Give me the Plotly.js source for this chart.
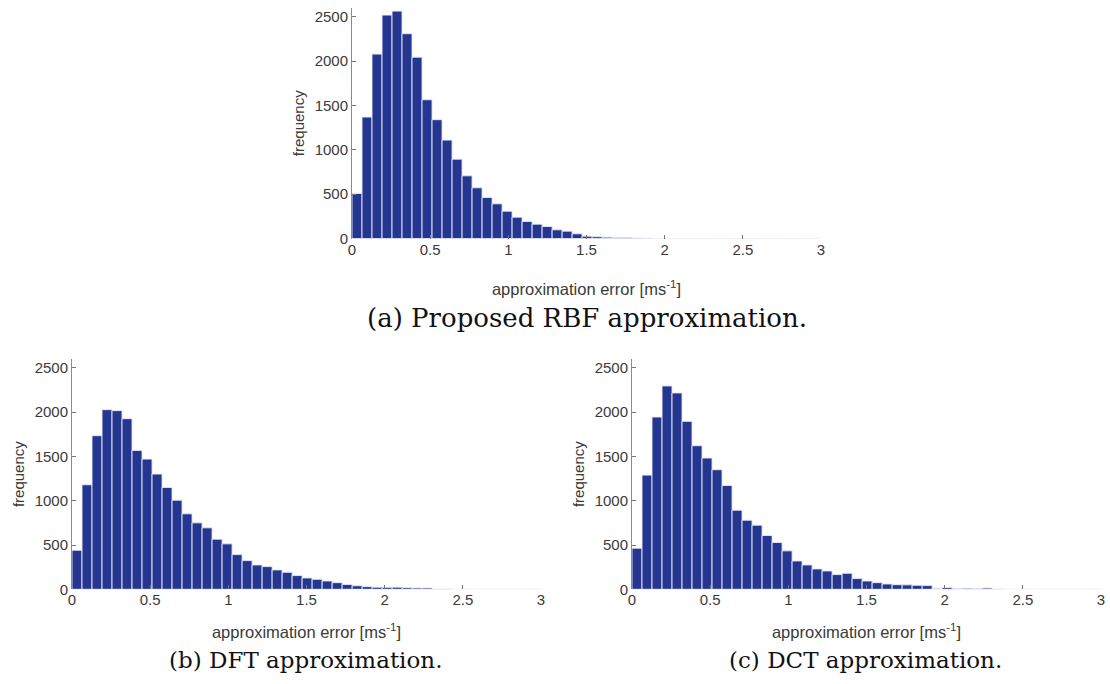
<!DOCTYPE html>
<html>
<head>
<meta charset="utf-8">
<script src="https://cdn.plot.ly/plotly-3.0.1.min.js"></script>
<style>html,body{margin:0;padding:0;background:#fff;}#chart{width:1110px;height:684px;}</style>
</head>
<body>
<div id="chart"></div>
<script>
// Histogram bin width of the error values [m/s]
const binWidth = 0.064;

// Counts per bin (bins start at 0, width binWidth)
const rbfCounts = [508, 1370, 2080, 2520, 2565, 2310, 2045, 1565, 1340, 1110, 895, 707, 572, 462, 391, 308, 241, 192, 162, 135, 98, 83, 53, 26,
  20, 15, 12, 10, 5, 3, 0, 0, 0, 0, 0, 0, 1, 1, 0, 0, 0, 1, 1, 0, 0, 1, 1];
const dftCounts = [441, 1180, 1734, 2028, 2017, 1926, 1568, 1470, 1301, 1150, 1006, 852, 750, 694, 566, 513, 392, 324, 275, 256, 219, 192, 155, 128,
  113, 94, 75, 55, 40, 30, 24, 22, 24, 18, 15, 15, 2, 3, 0, 0, 0, 0, 0, 0, 0, 1, 1];
const dctCounts = [464, 1289, 1945, 2296, 2217, 1896, 1621, 1482, 1350, 1172, 893, 780, 724, 607, 528, 434, 320, 275, 230, 207, 166, 181, 121, 94,
  75, 60, 52, 50, 45, 42, 10, 20, 8, 12, 5, 14, 2, 0, 0, 0, 0, 0, 0, 0, 0, 1, 1];

const xTickVals = [0, 0.5, 1, 1.5, 2, 2.5, 3];
const xTickText = ['0', '0.5', '1', '1.5', '2', '2.5', '3'];
const yTickVals = [0, 500, 1000, 1500, 2000, 2500];
const yTickText = ['0', '500', '1000', '1500', '2000', '2500'];

const captions = ['(a) Proposed RBF approximation.', '(b) DFT approximation.', '(c) DCT approximation.'];
const xTitle = 'approximation error [ms<sup>-1</sup>]';
const yTitle = 'frequency';

const barColor = '#24368f';
const W = 1110, H = 684;
function px(x) { return x / W; }
function py(y) { return 1 - y / H; }

function centers(counts) { return counts.map((_, i) => (i + 0.5) * binWidth); }
function barTrace(counts, xa, ya) {
  return {
    type: 'bar', x: centers(counts), y: counts, width: binWidth,
    xaxis: xa, yaxis: ya,
    marker: { color: barColor, line: { color: 'rgba(230,234,246,0.9)', width: 1 } },
    hoverinfo: 'x+y', showlegend: false
  };
}

const tickFont = { family: 'Liberation Sans, Arial, sans-serif', size: 15, color: '#3a3a3a' };
const xTitleFont = { family: 'Liberation Sans, Arial, sans-serif', size: 16.5, color: '#3a3a3a' };
const yTitleFont = { family: 'Liberation Sans, Arial, sans-serif', size: 15, color: '#3a3a3a' };

function xAxis(dom, anchor, standoff) {
  return {
    domain: dom, anchor: anchor, range: [0, 3], tickmode: 'array', tickvals: xTickVals, ticktext: xTickText,
    ticks: 'inside', ticklen: 4, tickcolor: '#777', showline: false, showgrid: false, zeroline: false,
    tickfont: tickFont, title: { text: xTitle, font: xTitleFont, standoff: standoff }, fixedrange: true
  };
}
function yAxis(dom, anchor) {
  return {
    domain: dom, anchor: anchor, range: [0, 2600], tickmode: 'array', tickvals: yTickVals, ticktext: yTickText,
    ticks: 'inside', ticklen: 4, tickcolor: '#777', showline: true, linecolor: '#8a8a8a', linewidth: 1,
    showgrid: false, zeroline: false, tickfont: tickFont,
    title: { text: yTitle, font: yTitleFont, standoff: 6 }, fixedrange: true
  };
}

const data = [
  barTrace(rbfCounts, 'x', 'y'),
  barTrace(dftCounts, 'x2', 'y2'),
  barTrace(dctCounts, 'x3', 'y3')
];

const capFontTop = { family: 'DejaVu Serif, serif', size: 26, color: '#111' };
const capFont = { family: 'DejaVu Serif, serif', size: 23, color: '#111' };
const layout = {
  width: W, height: H,
  margin: { l: 0, r: 0, t: 0, b: 0 },
  paper_bgcolor: '#fff', plot_bgcolor: '#fff',
  bargap: 0,
  xaxis: xAxis([px(352), px(821)], 'y', 26),
  yaxis: yAxis([py(238.5), py(8)], 'x'),
  xaxis2: xAxis([px(72), px(541)], 'y2', 19),
  yaxis2: yAxis([py(589.3), py(359)], 'x2'),
  xaxis3: xAxis([px(632), px(1101)], 'y3', 19),
  yaxis3: yAxis([py(589.3), py(359)], 'x3'),
  annotations: [
    { text: captions[0], x: px(587), y: py(318), xref: 'paper', yref: 'paper', showarrow: false, font: capFontTop, xanchor: 'center', yanchor: 'middle' },
    { text: captions[1], x: px(305), y: py(660), xref: 'paper', yref: 'paper', showarrow: false, font: capFont, xanchor: 'center', yanchor: 'middle' },
    { text: captions[2], x: px(865), y: py(660), xref: 'paper', yref: 'paper', showarrow: false, font: capFont, xanchor: 'center', yanchor: 'middle' }
  ]
};

Plotly.newPlot('chart', data, layout, { displayModeBar: false, staticPlot: true });
</script>
</body>
</html>
